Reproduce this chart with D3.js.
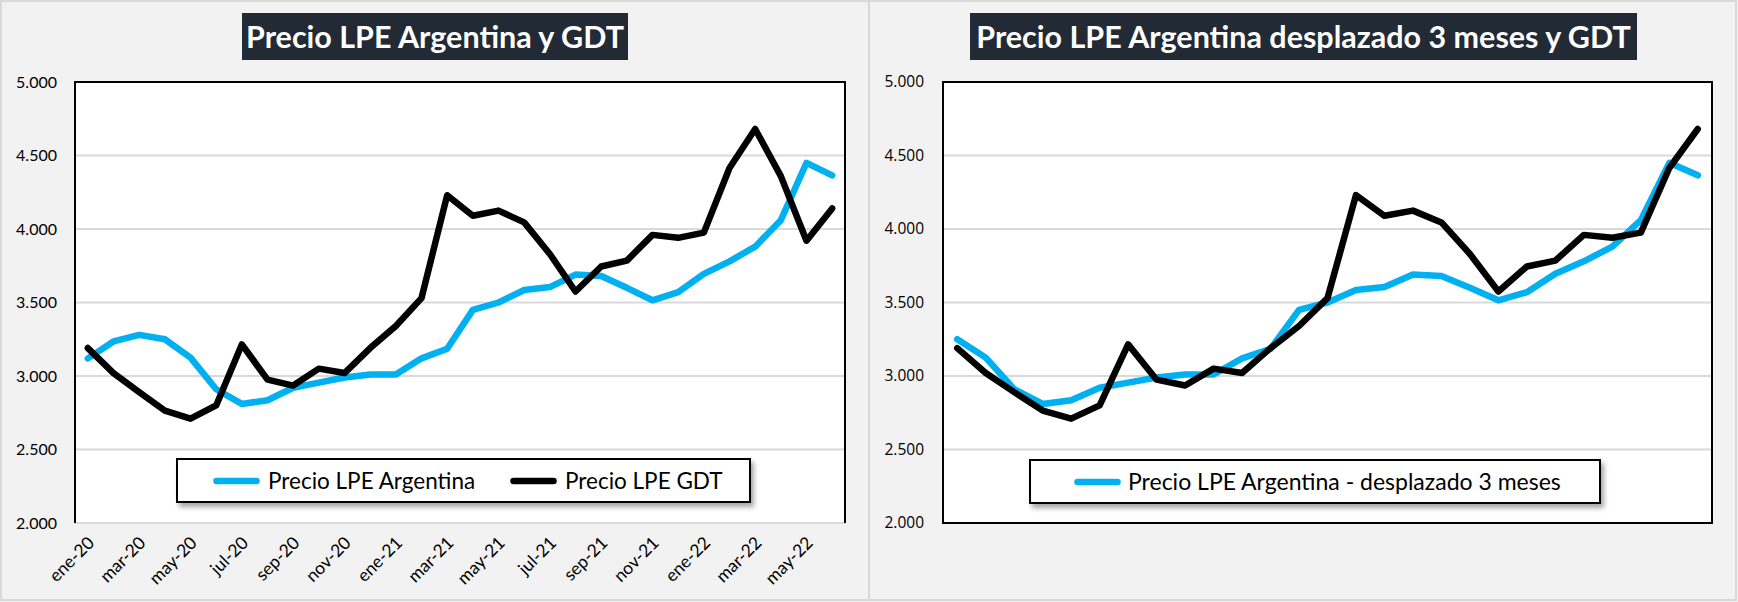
<!DOCTYPE html>
<html>
<head>
<meta charset="utf-8">
<script src="https://cdn.jsdelivr.net/npm/d3@7"></script>
<style>
  html, body { margin: 0; padding: 0; background: #f2f2f2; }
  svg { display: block; }
</style>
</head>
<body>
<svg id="chart" width="1738" height="602"></svg>
<script>
// ---------------- DATA ----------------
const months = [
  "ene-20","feb-20","mar-20","abr-20","may-20","jun-20","jul-20","ago-20","sep-20","oct-20","nov-20","dic-20",
  "ene-21","feb-21","mar-21","abr-21","may-21","jun-21","jul-21","ago-21","sep-21","oct-21","nov-21","dic-21",
  "ene-22","feb-22","mar-22","abr-22","may-22","jun-22"
];
const precioArgentina = [3120, 3235, 3280, 3250, 3125, 2910, 2810, 2835, 2920, 2955, 2990, 3010, 3010, 3120, 3185,
  3450, 3500, 3585, 3605, 3690, 3680, 3600, 3515, 3570, 3695, 3780, 3880, 4060, 4450, 4365];
const precioGDT = [3190, 3020, 2890, 2765, 2710, 2800, 3215, 2975, 2935, 3050, 3020, 3190, 3340, 3530, 4230,
  4090, 4125, 4045, 3830, 3575, 3745, 3785, 3960, 3940, 3975, 4415, 4680, 4360, 3920, 4140];
const shiftMonths = 3;
const yTicks = [2000, 2500, 3000, 3500, 4000, 4500, 5000];
const yDomain = [2000, 5000];
const titles = ["Precio LPE Argentina y GDT", "Precio LPE Argentina desplazado 3 meses y GDT"];
const legendLeft = ["Precio LPE Argentina", "Precio LPE GDT"];
const legendRight = ["Precio LPE Argentina - desplazado 3 meses"];
const colors = { arg: "#00b0f0", gdt: "#000000" };

// ---------------- SETUP ----------------
const svg = d3.select("#chart");
const locale = d3.formatLocale({ decimal: ",", thousands: ".", grouping: [3], currency: ["$", ""] });
const fmt = locale.format(",");

const defs = svg.append("defs");
const f = defs.append("filter").attr("id", "shadow").attr("x", "-10%").attr("y", "-30%").attr("width", "130%").attr("height", "180%");
f.append("feDropShadow").attr("dx", 3).attr("dy", 4).attr("stdDeviation", 2.5)
  .attr("flood-color", "#000").attr("flood-opacity", 0.35);

// background and panel frames
svg.append("rect").attr("width", 1738).attr("height", 602).attr("fill", "#f2f2f2");
svg.append("rect").attr("x", 1).attr("y", 1).attr("width", 868).attr("height", 599)
  .attr("fill", "none").attr("stroke", "#d9d9d9").attr("stroke-width", 2);
svg.append("rect").attr("x", 869).attr("y", 1).attr("width", 867).attr("height", 599)
  .attr("fill", "none").attr("stroke", "#d9d9d9").attr("stroke-width", 2);

function drawPanel(opt) {
  const g = svg.append("g");
  const x = d3.scalePoint().domain(opt.cats).range([opt.left, opt.right]).padding(0.5);
  const y = d3.scaleLinear().domain(yDomain).range([opt.bottom, opt.top]);

  // title
  const tg = g.append("g");
  tg.append("rect").attr("x", opt.titleBox[0]).attr("y", 13)
    .attr("width", opt.titleBox[1] - opt.titleBox[0]).attr("height", 47).attr("fill", "#222a35");
  tg.append("text").attr("x", (opt.titleBox[0] + opt.titleBox[1]) / 2).attr("y", 48)
    .attr("text-anchor", "middle").attr("fill", "#fff")
    .attr("font-family", "Lato").attr("font-weight", "bold").attr("font-size", opt.titleSize)
    .text(opt.title);

  // plot area
  g.append("rect").attr("x", opt.left).attr("y", opt.top)
    .attr("width", opt.right - opt.left).attr("height", opt.bottom - opt.top).attr("fill", "#fff");

  // grid
  g.append("g").selectAll("line").data(yTicks.filter(t => t > yDomain[0] && t < yDomain[1] || (!opt.bottomBlack && t === yDomain[0])))
    .join("line")
    .attr("x1", opt.left).attr("x2", opt.right)
    .attr("y1", d => y(d)).attr("y2", d => y(d))
    .attr("stroke", "#d9d9d9").attr("stroke-width", 2);

  // y axis labels
  const yAxis = d3.axisLeft(y).tickValues(yTicks).tickFormat(fmt).tickSize(0).tickPadding(0);
  const ya = g.append("g").attr("transform", `translate(${opt.labelRight},0)`).call(yAxis);
  ya.select(".domain").remove();
  ya.selectAll("text").attr("font-family", opt.tickFont).attr("font-size", opt.tickSize).attr("fill", "#000");

  // x axis labels
  if (opt.showX) {
    const xAxis = d3.axisBottom(x).tickValues(opt.cats.filter((d, i) => i % 2 === 0)).tickSize(0).tickPadding(0);
    const xa = g.append("g").attr("transform", `translate(0,${opt.bottom})`).call(xAxis);
    xa.select(".domain").remove();
    xa.selectAll("text")
      .attr("font-family", "Lato").attr("font-size", 17.5).attr("fill", "#000")
      .attr("text-anchor", "end").attr("dy", 0)
      .attr("transform", "translate(7,21) rotate(-45)");
  }

  // lines
  const line = d3.line().x((d, i) => x(opt.cats[i])).y(d => y(d));
  opt.series.forEach(s => {
    g.append("path").datum(s.values).attr("d", line)
      .attr("fill", "none").attr("stroke", s.color).attr("stroke-width", 6.5)
      .attr("stroke-linejoin", "round").attr("stroke-linecap", "round");
  });

  // plot border
  const b = g.append("g").attr("stroke", "#000").attr("stroke-width", 2).attr("fill", "none");
  b.append("path").attr("d",
    opt.bottomBlack
      ? `M${opt.left},${opt.top}H${opt.right}V${opt.bottom}H${opt.left}Z`
      : `M${opt.left},${opt.bottom}V${opt.top}H${opt.right}V${opt.bottom}`);

  // legend
  const lg = g.append("g");
  lg.append("rect").attr("x", opt.legendBox[0]).attr("y", opt.legendBox[1])
    .attr("width", opt.legendBox[2] - opt.legendBox[0]).attr("height", opt.legendBox[3] - opt.legendBox[1])
    .attr("fill", "#fff").attr("stroke", "#000").attr("stroke-width", 2).attr("filter", "url(#shadow)");
  const cy = (opt.legendBox[1] + opt.legendBox[3]) / 2 + 0.5;
  opt.legendItems.forEach(it => {
    lg.append("line").attr("x1", it.x0 + 3.5).attr("x2", it.x1 - 3.5).attr("y1", cy).attr("y2", cy)
      .attr("stroke", it.color).attr("stroke-width", 6.5).attr("stroke-linecap", "round");
    lg.append("text").attr("x", it.tx).attr("y", cy + 8)
      .attr("font-family", "Lato").attr("font-size", opt.legendSize).attr("fill", "#000").text(it.label);
  });
}

// left panel
drawPanel({
  cats: months,
  left: 75, right: 845, top: 82, bottom: 523,
  labelRight: 57, tickFont: "Lato", tickSize: 16,
  title: titles[0], titleBox: [242, 628], titleSize: 30.5,
  showX: true, bottomBlack: false,
  series: [
    { values: precioArgentina, color: colors.arg },
    { values: precioGDT, color: colors.gdt }
  ],
  legendBox: [177, 459, 750, 502], legendSize: 22.5,
  legendItems: [
    { x0: 213, x1: 260, tx: 268, color: colors.arg, label: legendLeft[0] },
    { x0: 510, x1: 557, tx: 565, color: colors.gdt, label: legendLeft[1] }
  ]
});

// right panel (Argentina shifted 3 months)
const nRight = months.length - shiftMonths;
drawPanel({
  cats: months.slice(0, nRight),
  left: 943, right: 1712, top: 82, bottom: 523,
  labelRight: 924, tickFont: "Open Sans", tickSize: 15.5,
  title: titles[1], titleBox: [970, 1637], titleSize: 30.5,
  showX: false, bottomBlack: true,
  series: [
    { values: precioArgentina.slice(shiftMonths), color: colors.arg },
    { values: precioGDT.slice(0, nRight), color: colors.gdt }
  ],
  legendBox: [1030, 460, 1600, 503], legendSize: 23,
  legendItems: [
    { x0: 1074, x1: 1121, tx: 1128, color: colors.arg, label: legendRight[0] }
  ]
});
</script>
</body>
</html>
